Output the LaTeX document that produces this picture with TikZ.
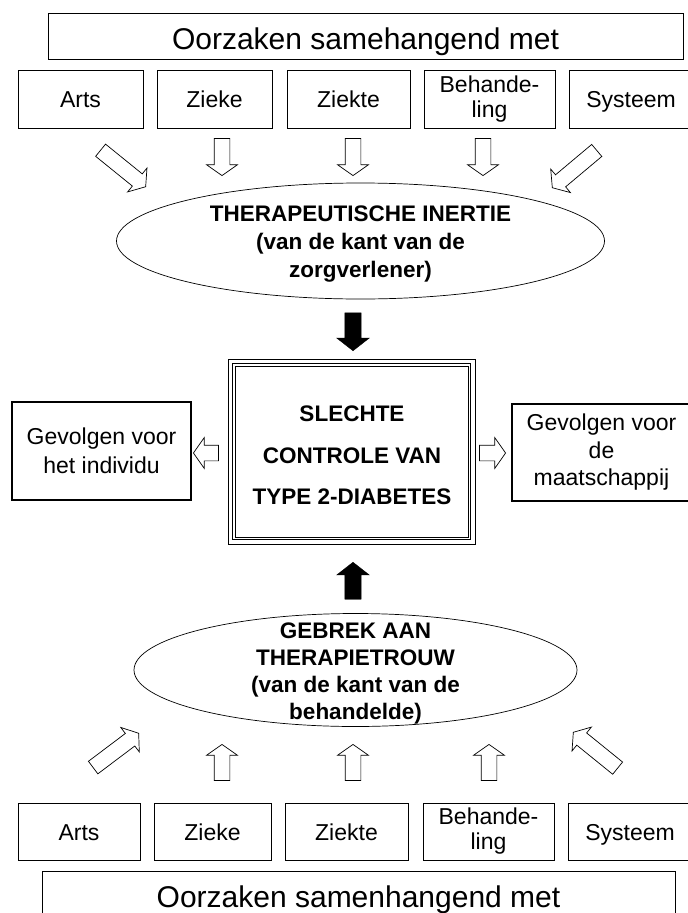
\documentclass[tikz,border=0pt]{standalone}
\usepackage{fontspec}
\setmainfont{Liberation Sans}
\usepackage{tikz}
\usetikzlibrary{shapes.geometric,%
                shapes.arrows}

\tikzset{BoxStyle/.style = {draw=black,line width=0.8pt,inner sep=0pt,align=center,
		font=\fontsize{23}{25}\selectfont},
	OneLine/.style = {BoxStyle,text height=17.5pt,text depth=0pt},
	TitleStyle/.style = {BoxStyle,anchor=north,text height=36pt,text depth=10pt,
		font=\fontsize{30}{32}\selectfont},
	OvalStyle/.style = {draw=black,shape=ellipse,line width=0.7pt,inner sep=0pt},
	BoldStyle/.style = {align=center,inner sep=0pt,font=\fontsize{22.5}{28}\selectfont\bfseries},
	HollowArrow/.style = {shape=single arrow,anchor=tip,draw=black,fill=white,line width=0.7pt,
		inner xsep=0pt,inner ysep=7.5pt,single arrow head extend=7.5pt,single arrow tip angle=110},
	SolidArrow/.style = {shape=single arrow,anchor=tip,draw=black,fill=black,
		inner xsep=0pt,inner ysep=8pt,single arrow head extend=8pt,single arrow tip angle=104}}

\begin{document}
\begin{tikzpicture}[x=1pt,y=-1pt]
		\useasboundingbox (0,0) rectangle (688,913);
		% oorzaken (boven)
		\node[TitleStyle,minimum width=635pt] (O1) at (365.5,13) {Oorzaken samehangend met};
		\node[OneLine,minimum width=125pt,minimum height=58pt] (Art1) at (80.5,99) {Arts};
		\node[OneLine,minimum width=115pt,minimum height=58pt] (Zke1) at (214.5,99) {Zieke};
		\node[OneLine,minimum width=123pt,minimum height=58pt] (Zkt1) at (348.5,99) {Ziekte};
		\node[BoxStyle,minimum width=131pt,minimum height=58pt] (Beh1) at (489.5,99) {Behande-\\ling};
		\node[OneLine,minimum width=124pt,minimum height=58pt] (Sys1) at (631,99) {Systeem};
		% therapeutische inertie
		\node[OvalStyle,minimum width=488pt,minimum height=116pt] (TI) at (360.5,241) {};
		\node[BoldStyle] (TItxt) at (360.5,244.5) {THERAPEUTISCHE INERTIE\\(van de kant van de\\zorgverlener)};
		% slechte controle
		\node[draw=black,line width=1.8pt,minimum width=238pt,minimum height=176pt] (SC) at (351.5,451.5) {};
		\draw[line width=0.6pt] ([shift={(-3.5pt,3.5pt)}]SC.north west) rectangle ([shift={(3.5pt,-3.5pt)}]SC.south east);
		\draw[line width=0.6pt] ([shift={(3.5pt,-3.5pt)}]SC.north west) rectangle ([shift={(-3.5pt,3.5pt)}]SC.south east);
		\node[BoldStyle,font=\fontsize{22.5}{41.5}\selectfont\bfseries] (SCtxt) at (352,455.5) {SLECHTE\\CONTROLE VAN\\TYPE 2-DIABETES};
		{
			\tikzset{BoxStyle/.append style = {line width=2pt,minimum width=179pt}}
			\node[BoxStyle,minimum height=98pt,font=\fontsize{23}{29}\selectfont] (GI) at (101.5,451) {Gevolgen voor\\het individu};
			\node[BoxStyle,minimum height=97pt,font=\fontsize{23}{27.5}\selectfont] (GM) at (601.5,452.5) {Gevolgen voor\\de\\maatschappij};
		}
		% gebrek aan therapietrouw
		\node[OvalStyle,minimum width=443pt,minimum height=113pt] (GT) at (355.5,670) {};
		\node[BoldStyle,font=\fontsize{22.5}{27}\selectfont\bfseries] (GTtxt) at (355.5,673.5) {GEBREK AAN\\THERAPIETROUW\\(van de kant van de\\behandelde)};
		% oorzaken (onder)
		\node[OneLine,minimum width=122pt,minimum height=57pt] (Art2) at (79,831.5) {Arts};
		\node[OneLine,minimum width=117pt,minimum height=57pt] (Zke2) at (212.5,831.5) {Zieke};
		\node[OneLine,minimum width=123pt,minimum height=57pt] (Zkt2) at (346.5,831.5) {Ziekte};
		\node[BoxStyle,minimum width=131pt,minimum height=57pt] (Beh2) at (488.5,831.5) {Behande-\\ling};
		\node[OneLine,minimum width=124pt,minimum height=57pt] (Sys2) at (630,831.5) {Systeem};
		\node[TitleStyle,minimum width=633pt] (O2) at (358.5,871) {Oorzaken samenhangend met};
		% pijlen
		\node[HollowArrow,minimum height=58pt,rotate=-39] (a1) at (146,187) {};
		\node[HollowArrow,minimum height=37pt,rotate=-90] (a2) at (222,176) {};
		\node[HollowArrow,minimum height=37pt,rotate=-90] (a3) at (353,176) {};
		\node[HollowArrow,minimum height=37pt,rotate=-90] (a4) at (483,176) {};
		\node[HollowArrow,minimum height=58pt,rotate=-140] (a5) at (552,188) {};
		\node[SolidArrow,minimum height=38pt,rotate=-90] (s1) at (353,351) {};
		\node[HollowArrow,minimum height=25pt,rotate=180] (l1) at (193,453) {};
		\node[HollowArrow,minimum height=26pt] (r1) at (506,453) {};
		\node[SolidArrow,minimum height=37pt,rotate=90] (s2) at (353,562) {};
		\node[HollowArrow,minimum height=57pt,rotate=37] (b1) at (139,733) {};
		\node[HollowArrow,minimum height=36pt,rotate=90] (b2) at (222,744) {};
		\node[HollowArrow,minimum height=36pt,rotate=90] (b3) at (353,744) {};
		\node[HollowArrow,minimum height=36pt,rotate=90] (b4) at (489,744) {};
		\node[HollowArrow,minimum height=57pt,rotate=141] (b5) at (573,732) {};
	\end{tikzpicture}
\end{document}
